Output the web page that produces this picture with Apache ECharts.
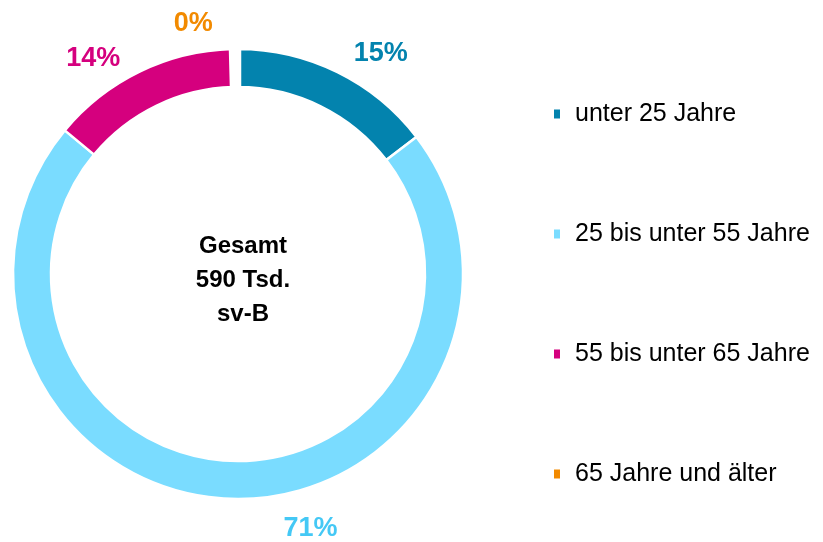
<!DOCTYPE html>
<html>
<head>
<meta charset="utf-8">
<script src="https://cdn.jsdelivr.net/npm/echarts@6/dist/echarts.min.js"></script>
<style>html,body{margin:0;padding:0;background:#fff;}#c{width:823px;height:542px;}</style>
</head>
<body>
<div id="c"></div>
<script>
var categories = ['unter 25 Jahre', '25 bis unter 55 Jahre', '55 bis unter 65 Jahre', '65 Jahre und älter'];
var values = [86, 421.5, 80, 2.5]; // Tsd. sv-B (estimated)
var colors = ['#0383AE', '#7ADCFF', '#D5007E', '#F28A00'];
var labelColors = ['#0383AE', '#44C8F5', '#D5007E', '#F28A00'];
var centerLines = ['Gesamt', '590 Tsd.', 'sv-B'];
var labelShift = [[6, -8], [109, 18], [-9, -2], [-17, -13]];

var chart = echarts.init(document.getElementById('c'), null, {renderer: 'canvas'});
var data = categories.map(function (n, i) {
  var d = {
    name: n, value: values[i],
    itemStyle: {color: colors[i]},
    label: {color: labelColors[i]}
  };
  if (i === 3) d.itemStyle.borderWidth = 6.5;
  return d;
});
chart.setOption({
  animation: false,
  title: {
    text: centerLines.join('\n'),
    left: 238, top: 224, textAlign: 'center',
    textStyle: {fontFamily: 'Liberation Sans, Arial, sans-serif', fontWeight: 'bold', fontSize: 24, lineHeight: 34, color: '#000'}
  },
  legend: {
    orient: 'vertical', left: 549, top: 94, itemGap: 90,
    icon: 'rect', itemWidth: 6, itemHeight: 9,
    itemStyle: {borderWidth: 0},
    textStyle: {fontFamily: 'Liberation Sans, Arial, sans-serif', fontSize: 25, lineHeight: 30, color: '#000', padding: [0, 0, 0, 10]},
    data: categories
  },
  series: [{
    type: 'pie',
    center: [238, 274],
    radius: [187, 225],
    startAngle: 90,
    clockwise: true,
    avoidLabelOverlap: false,
    itemStyle: {borderColor: '#fff', borderWidth: 2.5},
    label: {
      show: true, position: 'outside',
      formatter: function (p) { return Math.round(p.percent) + '%'; },
      fontFamily: 'Liberation Sans Narrow, Arial Narrow, Liberation Sans, sans-serif',
      fontWeight: 'bold', fontSize: 27
    },
    labelLine: {show: false, length: 12, length2: 0},
    labelLayout: function (p) {
      var s = labelShift[p.dataIndex];
      return {dx: s[0], dy: s[1]};
    },
    data: data
  }]
});
</script>
</body>
</html>
